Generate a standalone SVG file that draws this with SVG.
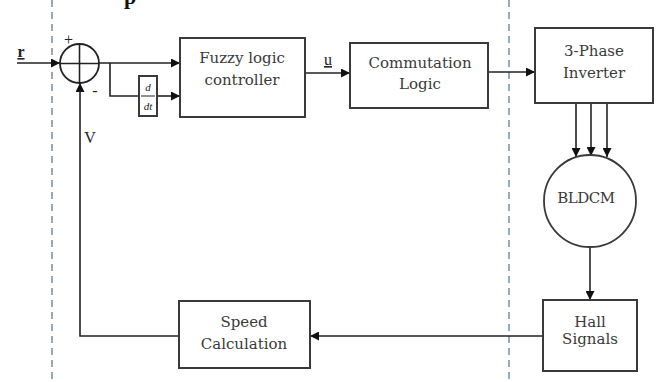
<svg xmlns="http://www.w3.org/2000/svg" width="661" height="382" viewBox="0 0 661 382">
<defs>
<style>
.box{fill:#fff;stroke:#3a3a3a;stroke-width:2}
.ln{fill:none;stroke:#222;stroke-width:1.6}
.dash{fill:none;stroke:#7f95a8;stroke-width:1.6;stroke-dasharray:7 5}
.t{font-family:"DejaVu Serif","Liberation Serif",serif;font-size:15px;fill:#3a3a3a;text-anchor:middle}
.lbl{font-family:"Liberation Serif","DejaVu Serif",serif;font-size:16px;fill:#222}
</style>
<marker id="ah" viewBox="0 0 10 10" refX="10" refY="5" markerWidth="10" markerHeight="9" markerUnits="userSpaceOnUse" orient="auto">
<path d="M0,0 L10,5 L0,10 z" fill="#111"/>
</marker>
</defs>
<rect width="661" height="382" fill="#fff"/>
<text x="124" y="4" style="font-family:'Liberation Serif',serif;font-size:22px;font-weight:bold;fill:#111">p</text>
<g id="guides">
<line class="dash" x1="52" y1="0" x2="52" y2="382"/>
<line class="dash" x1="509" y1="0" x2="509" y2="382"/>
</g>
<g id="connectors">
<line class="ln" x1="17" y1="63" x2="60" y2="63" marker-end="url(#ah)"/>
<line class="ln" x1="99" y1="63" x2="180" y2="63" marker-end="url(#ah)"/>
<polyline class="ln" points="110,63 110,96 139,96"/>
<line class="ln" x1="157" y1="96" x2="180" y2="96" marker-end="url(#ah)"/>
<line class="ln" x1="305" y1="73" x2="350" y2="73" marker-end="url(#ah)"/>
<line class="ln" x1="488" y1="72" x2="535" y2="72" marker-end="url(#ah)"/>
<line class="ln" x1="576" y1="103" x2="576" y2="157" marker-end="url(#ah)"/>
<line class="ln" x1="591" y1="103" x2="591" y2="156" marker-end="url(#ah)"/>
<line class="ln" x1="607" y1="103" x2="607" y2="157" marker-end="url(#ah)"/>
<line class="ln" x1="590" y1="246" x2="590" y2="300" marker-end="url(#ah)"/>
<line class="ln" x1="543" y1="336" x2="310" y2="336" marker-end="url(#ah)"/>
<polyline class="ln" points="179,336 80,336 80,83" marker-end="url(#ah)"/>
</g>
<g id="labels">
<text class="lbl" x="21" y="57" text-anchor="middle" text-decoration="underline" font-weight="bold">r</text>
<text class="lbl" x="68.5" y="45" text-anchor="middle" font-size="15">+</text>
<text class="lbl" x="95" y="96" text-anchor="middle" font-size="15">-</text>
<text class="lbl" x="90" y="143" text-anchor="middle">V</text>
<text class="lbl" x="328" y="65" text-anchor="middle" text-decoration="underline">u</text>
</g>
<g id="sum">
<circle cx="79.5" cy="63.5" r="19.5" fill="none" stroke="#222" stroke-width="1.8"/>
<line class="ln" x1="60" y1="63.5" x2="99" y2="63.5"/>
<line class="ln" x1="79.5" y1="44" x2="79.5" y2="83"/>
</g>
<g id="ddt">
<rect x="139" y="76" width="18" height="40" class="box" stroke-width="1.6"/>
<text x="148" y="91" style="font-family:'Liberation Serif',serif;font-size:11px;font-style:italic;fill:#222" text-anchor="middle">d</text>
<line x1="141" y1="96" x2="155" y2="96" stroke="#222" stroke-width="1"/>
<text x="148" y="110" style="font-family:'Liberation Serif',serif;font-size:11px;font-style:italic;fill:#222" text-anchor="middle">dt</text>
</g>
<g id="fuzzy">
<rect x="180" y="38" width="125" height="79" class="box"/>
<text class="t" x="242" y="63">Fuzzy logic</text>
<text class="t" x="242" y="85">controller</text>
</g>
<g id="commutation">
<rect x="350" y="43" width="138" height="65" class="box"/>
<text class="t" x="420" y="68">Commutation</text>
<text class="t" x="420" y="89">Logic</text>
</g>
<g id="inverter">
<rect x="535" y="28" width="118" height="75" class="box"/>
<text class="t" x="594" y="56">3-Phase</text>
<text class="t" x="594" y="78">Inverter</text>
</g>
<g id="bldcm">
<circle cx="590" cy="201" r="46" fill="#fff" stroke="#3a3a3a" stroke-width="1.8"/>
<text class="t" x="586" y="203" letter-spacing="-0.5">BLDCM</text>
</g>
<g id="hall">
<rect x="543" y="300" width="94" height="71" class="box"/>
<text class="t" x="590" y="327">Hall</text>
<text class="t" x="590" y="344">Signals</text>
</g>
<g id="speed">
<rect x="179" y="301" width="131" height="67" class="box"/>
<text class="t" x="244" y="327">Speed</text>
<text class="t" x="244" y="349">Calculation</text>
</g>
</svg>
